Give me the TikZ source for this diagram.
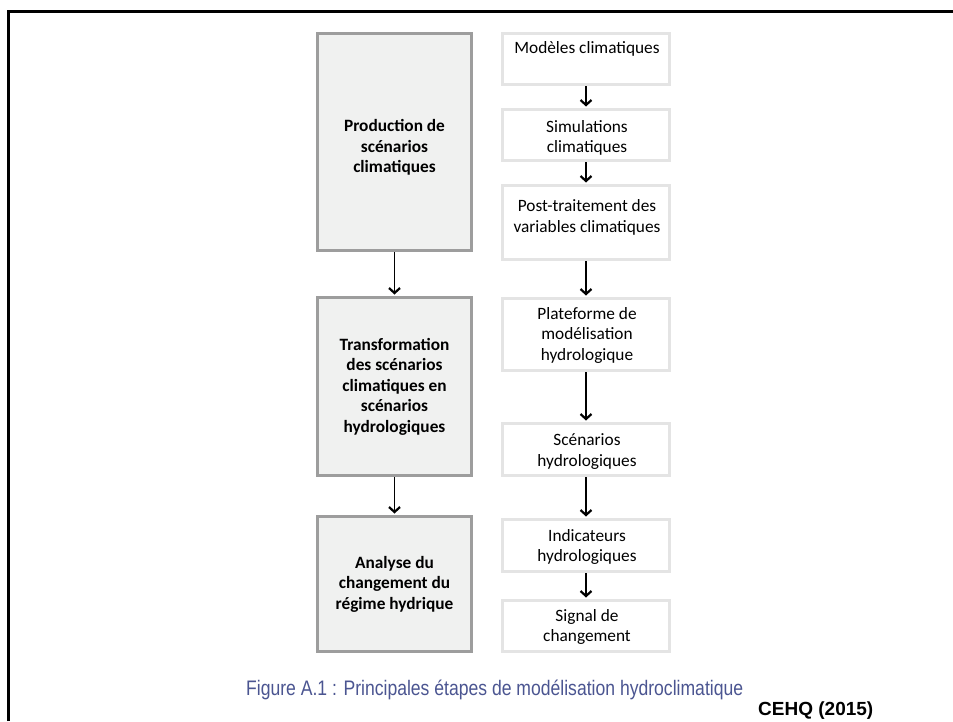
\documentclass[tikz,border=0pt]{standalone}
\usepackage{fontspec}
\setmainfont{Carlito}
\newfontfamily\capfont{Liberation Sans}
\usetikzlibrary{arrows.meta}
\definecolor{leftfill}{HTML}{F0F1F0}
\definecolor{leftdraw}{HTML}{9D9D9D}
\definecolor{rightdraw}{HTML}{E4E4E4}
\definecolor{capblue}{RGB}{75,85,145}
\begin{document}
\begin{tikzpicture}[x=1pt,y=-1pt,
  leftbox/.style={draw=leftdraw,fill=leftfill,line width=3pt,inner sep=0,minimum width=154pt},
  rightbox/.style={draw=rightdraw,fill=white,line width=3pt,inner sep=0,minimum width=167pt},
  boxtext/.style={inner sep=0,align=center,font=\fontsize{17.3}{20.5}\selectfont},
  boldtext/.style={inner sep=0,align=center,font=\fontsize{17.3}{20.5}\selectfont\bfseries},
  flow/.style={line width=1.5pt,-{Straight Barb[length=5pt,width=11pt,line width=2.2pt]},shorten >=1.5pt}
]
\useasboundingbox (0,0) rectangle (953,721);
\fill[white] (0,0) rectangle (953,721);
% frame
\draw[line width=3pt,line join=miter] (8.5,721) -- (8.5,11.5) -- (953,11.5);

% left column
\node[leftbox,minimum height=217pt] (L1) at (394.5,142) {};
\node[leftbox,minimum height=178pt] (L2) at (394.5,386.5) {};
\node[leftbox,minimum height=135pt] (L3) at (394.5,584) {};
\node[boldtext] (L1t) at (394.5,147.5) {Production de\\scénarios\\climatiques};
\node[boldtext] (L2t) at (394.5,386.5) {Transformation\\des scénarios\\climatiques en\\scénarios\\hydrologiques};
\node[boldtext] (L3t) at (394.5,584) {Analyse du\\changement du\\régime hydrique};

% right column
\node[rightbox,minimum height=51pt] (R1) at (586,59) {};
\node[rightbox,minimum height=51pt] (R2) at (586,135) {};
\node[rightbox,minimum height=74pt] (R3) at (586,222.5) {};
\node[rightbox,minimum height=72pt] (R4) at (586,334.5) {};
\node[rightbox,minimum height=52pt] (R5) at (586,449.5) {};
\node[rightbox,minimum height=52pt] (R6) at (586,545.5) {};
\node[rightbox,minimum height=51pt] (R7) at (586,626) {};
\node[boxtext] (R1t) at (587,49) {Modèles climatiques};
\node[boxtext] (R2t) at (587,138) {Simulations\\climatiques};
\node[boxtext] (R3t) at (587,217.5) {Post-traitement des\\variables climatiques};
\node[boxtext] (R4t) at (587,335) {Plateforme de\\modélisation\\hydrologique};
\node[boxtext] (R5t) at (587,451.5) {Scénarios\\hydrologiques};
\node[boxtext] (R6t) at (587,547) {Indicateurs\\hydrologiques};
\node[boxtext] (R7t) at (587,627) {Signal de\\changement};

% connectors
\draw[flow] (L1.south) -- (L2.north);
\draw[flow] (L2.south) -- (L3.north);
\draw[flow] (R1.south) -- (R2.north);
\draw[flow] (R2.south) -- (R3.north);
\draw[flow] (R3.south) -- (R4.north);
\draw[flow] (R4.south) -- (R5.north);
\draw[flow] (R5.south) -- (R6.north);
\draw[flow] (R6.south) -- (R7.north);

% caption and source
\node[anchor=base west,inner sep=0,text=capblue] (cap) at (246,695)
  {\resizebox{497pt}{\height}{\capfont\fontsize{21}{25}\selectfont Figure A.1 : Principales étapes de modélisation hydroclimatique}};
\node[anchor=base west,inner sep=0] (src) at (758,715.5)
  {\capfont\bfseries\fontsize{19}{22}\selectfont CEHQ (2015)};
\end{tikzpicture}
\end{document}
